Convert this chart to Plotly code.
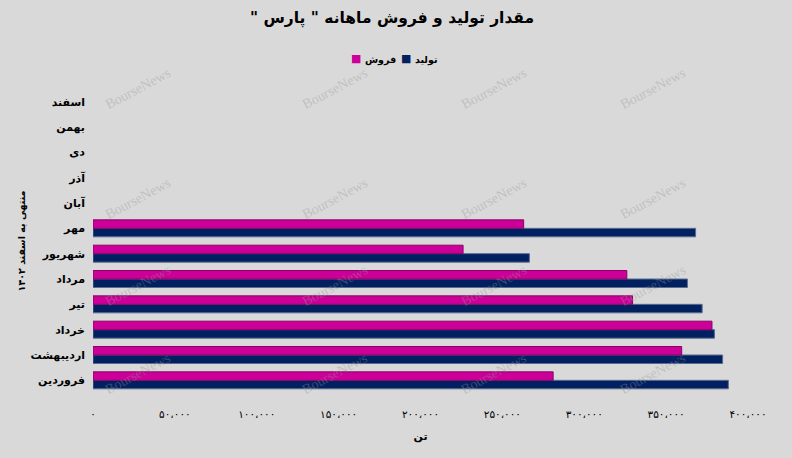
import plotly.graph_objects as go

# Data (tons), bottom-to-top order of the category axis
months = ["فروردین", "اردیبهشت", "خرداد", "تیر", "مرداد", "شهریور",
          "مهر", "آبان", "آذر", "دی", "بهمن", "اسفند"]
production = [388000, 384500, 379500, 372000, 363000, 266500, 368000,
              None, None, None, None, None]
sales = [281000, 359500, 378000, 329500, 326000, 226000, 263000,
         None, None, None, None, None]

tick_vals = [0, 50000, 100000, 150000, 200000, 250000, 300000, 350000, 400000]
tick_text = ["۰", "۵۰،۰۰۰", "۱۰۰،۰۰۰", "۱۵۰،۰۰۰", "۲۰۰،۰۰۰",
             "۲۵۰،۰۰۰", "۳۰۰،۰۰۰", "۳۵۰،۰۰۰", "۴۰۰،۰۰۰"]

title_text = "مقدار تولید و فروش ماهانه \" پارس \""
name_prod = "تولید"
name_sales = "فروش"
x_title = "تن"
y_title = "منتهی به اسفند ۱۴۰۲"
watermark = "BourseNews"

BG = "#d9d9d9"
FONT = "DejaVu Sans"
C_PROD = "#002060"
C_SALES = "#cc0099"
W, H = 792, 458

fig = go.Figure()
fig.add_trace(go.Bar(
    y=months, x=production, orientation="h", name=name_prod,
    marker=dict(color=C_PROD, line=dict(color="#5a6a90", width=1)),
))
fig.add_trace(go.Bar(
    y=months, x=sales, orientation="h", name=name_sales,
    marker=dict(color=C_SALES, line=dict(color="#8a0068", width=1)),
))


def px_x(px):
    return (px - 93) / 655


def px_y(py):
    return 1 - (py - 89) / 304


# watermarks
wm_x = [100, 297, 494, 691]
wm_y = [62, 172, 285, 400]
for yy in wm_y:
    for xx in wm_x:
        fig.add_annotation(
            text=watermark, xref="paper", yref="paper",
            x=px_x(xx), y=px_y(yy),
            showarrow=False, textangle=-28,
            font=dict(family="Liberation Serif", size=14,
                      color="rgba(150,150,150,0.38)"),
        )

# title (RLM keeps the closing quote at the visual left)
fig.add_annotation(
    text="<b>\u200f" + title_text + "\u200f</b>", xref="paper", yref="paper",
    x=px_x(392), y=px_y(18), xanchor="center", yanchor="middle",
    showarrow=False, font=dict(family=FONT, size=15.5, color="#000"),
)

# legend (custom, as in the reference: square then label)
legend_items = [(C_SALES, name_sales, 362, 364), (C_PROD, name_prod, 412, 414)]
for col, name, sq_right, tx_left in legend_items:
    fig.add_annotation(
        text="■", xref="paper", yref="paper",
        x=px_x(sq_right), y=px_y(58), xanchor="right", yanchor="middle",
        showarrow=False, borderpad=0,
        font=dict(family=FONT, size=11, color=col),
    )
    fig.add_annotation(
        text="<b>" + name + "</b>", xref="paper", yref="paper",
        x=px_x(tx_left), y=px_y(60), xanchor="left", yanchor="middle",
        showarrow=False, borderpad=0,
        font=dict(family=FONT, size=9.5, color="#000"),
    )

fig.update_layout(
    width=W, height=H,
    paper_bgcolor=BG, plot_bgcolor=BG,
    margin=dict(l=93, r=44, t=89, b=65),
    barmode="group", bargap=0.33, bargroupgap=0,
    font=dict(family=FONT, color="#000000"),
    showlegend=False,
)
fig.update_xaxes(
    range=[0, 400000], tickvals=tick_vals, ticktext=tick_text,
    showgrid=False, zeroline=False, showline=False, automargin=False,
    tickfont=dict(size=10.5, family=FONT), ticks="",
    tickprefix="<b>", ticksuffix="</b>", ticklabelstandoff=13,
    title=dict(text="<b>" + x_title + "</b>", font=dict(size=11), standoff=13),
)
fig.update_yaxes(
    categoryorder="array", categoryarray=months,
    showgrid=False, zeroline=False, showline=False, ticks="", automargin=False,
    tickfont=dict(size=11, family=FONT),
    tickprefix="<b>", ticksuffix="</b>  ",
    title=dict(text="<b>" + y_title + "</b>", font=dict(size=9.5), standoff=3),
)
fig.write_html("out.html", config={"displayModeBar": False},
               post_script="document.body.style.margin='0';")
